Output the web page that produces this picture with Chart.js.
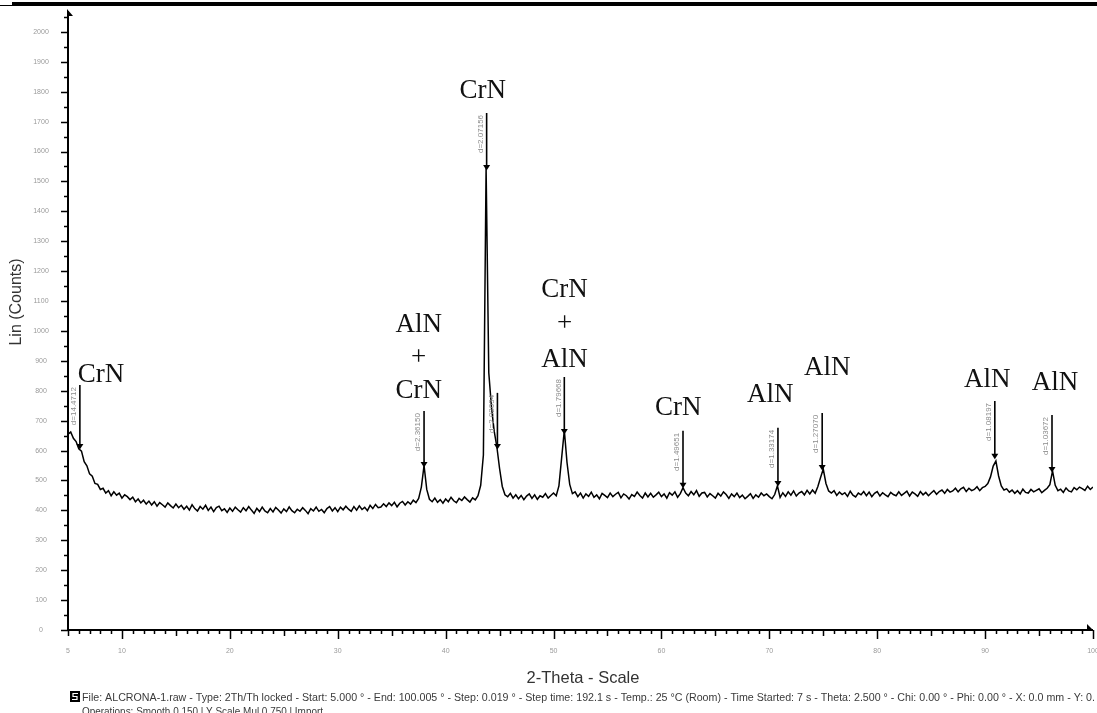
<!DOCTYPE html>
<html>
<head>
<meta charset="utf-8">
<script src="https://cdn.jsdelivr.net/npm/chart.js@4/dist/chart.umd.min.js"></script>
<style>
  html, body { margin: 0; padding: 0; background: #fff; }
  #wrap { position: relative; width: 1097px; height: 713px; overflow: hidden; }
  canvas { display: block; }
</style>
</head>
<body>
<div id="wrap"><canvas id="xrd" width="1097" height="713"></canvas></div>
<script>
// Step scan: 2-Theta from 5 deg, one count value every 0.25 deg
const scanStart = 5.0;
const scanStep = 0.25;
const counts = [
  655, 662, 641, 630,   // 5
  606, 598, 563, 549,   // 6
  522, 514, 490, 487,   // 7
  470, 474, 458, 466,   // 8
  449, 462, 451, 458,   // 9
  441, 452, 446, 436,   // 10
  444, 429, 438, 425,   // 11
  434, 421, 431, 418,   // 12
  429, 414, 426, 419,   // 13
  411, 425, 416, 408,   // 14
  421, 409, 417, 404,   // 15
  414, 401, 419, 406,   // 16
  398, 413, 404, 417,   // 17
  400, 411, 396, 409,   // 18
  414, 399, 405, 393,   // 19
  408, 397, 411, 402,   // 20
  394, 409, 399, 413,   // 21
  401, 390, 407, 396,   // 22
  411, 398, 392, 406,   // 23
  395, 410, 401, 391,   // 24
  405, 396, 412, 399,   // 25
  392, 404, 397, 409,   // 26
  400, 389, 406, 398,   // 27
  411, 397, 403, 392,   // 28
  406, 413, 398, 409,   // 29
  396, 411, 402, 414,   // 30
  404, 397, 413, 401,   // 31
  415, 403, 410, 399,   // 32
  417, 406, 420, 409,   // 33
  411, 422, 413, 425,   // 34
  416, 427, 412, 424,   // 35
  430, 418, 429, 421,   // 36
  434, 426, 440, 478,   // 37
  550, 470, 437, 429,   // 38
  441, 427, 436, 424,   // 39
  438, 429, 444, 432,   // 40
  426, 440, 433, 445,   // 41
  436, 428, 442, 435,   // 42
  449, 484, 585, 1545,  // 43
  860, 745, 665, 612,   // 44
  540, 480, 452, 446,   // 45
  457, 441, 452, 439,   // 46
  450, 436, 448, 455,   // 47
  440, 452, 437, 449,   // 48
  444, 456, 441, 450,   // 49
  458, 449, 482, 575,   // 50
  668, 560, 487, 456,   // 51
  462, 446, 458, 441,   // 52
  455, 447, 461, 444,   // 53
  452, 439, 457, 450,   // 54
  443, 458, 446, 454,   // 55
  460, 442, 455, 449,   // 56
  438, 453, 447, 461,   // 57
  450, 441, 458, 445,   // 58
  457, 444, 452, 461,   // 59
  446, 455, 441, 459,   // 60
  451, 462, 444, 456,   // 61
  476, 458, 449, 463,   // 62
  452, 466, 447, 458,   // 63
  460, 445, 456, 449,   // 64
  441, 457, 448, 462,   // 65
  453, 440, 455, 446,   // 66
  458, 443, 451, 439,   // 67
  447, 456, 440, 452,   // 68
  444, 458, 449, 455,   // 69
  446, 439, 453, 482,   // 70
  443, 459, 447, 462,   // 71
  451, 465, 448, 458,   // 72
  463, 452, 467, 455,   // 73
  468, 457, 480, 510,   // 74
  538, 490, 465, 458,   // 75
  466, 450, 461, 453,   // 76
  459, 447, 464, 451,   // 77
  445, 458, 452, 463,   // 78
  449, 461, 446, 457,   // 79
  463, 448, 459, 452,   // 80
  446, 460, 453, 449,   // 81
  462, 450, 457, 464,   // 82
  448, 461, 455, 447,   // 83
  463, 452, 460, 449,   // 84
  458, 466, 454, 463,   // 85
  468, 457, 470, 461,   // 86
  465, 474, 462, 472,   // 87
  477, 463, 474, 466,   // 88
  470, 479, 466, 476,   // 89
  480, 490, 512, 548,   // 90
  565, 515, 482, 468,   // 91
  472, 461, 468, 457,   // 92
  466, 455, 471, 460,   // 93
  458, 470, 462, 467,   // 94
  472, 459, 467, 474,   // 95
  486, 532, 484, 466,   // 96
  471, 460, 475, 465,   // 97
  462, 476, 469, 478,   // 98
  473, 467, 481, 470,   // 99
  478                   // 100
];

// Reflection markers: position, d-spacing text, intensity at the peak, top of the marker stick
const peakAngles   = [6.1, 38.0, 43.8, 44.8, 51.0, 62.0, 70.8, 74.9, 90.9, 96.2];
const peakDLabels  = ['d=14.4712', 'd=2.36150', 'd=2.07156', 'd=2.02034', 'd=1.79668',
                      'd=1.49651', 'd=1.33174', 'd=1.27070', 'd=1.08197', 'd=1.03672'];
const peakCounts   = [612, 552, 1545, 612, 662, 482, 488, 542, 579, 535];
const stickTops    = [819, 732, 1729, 793, 846, 666, 676, 726, 766, 719];

// Phase names written above the reflections (angle of the text centre, count level of its baseline)
const phaseNames  = ['CrN', 'AlN', '+', 'CrN', 'CrN', 'CrN', '+', 'AlN', 'CrN', 'AlN', 'AlN', 'AlN', 'AlN'];
const phaseAngles = [8.06, 37.5, 37.5, 37.5, 43.43, 51.02, 51.02, 51.02, 61.57, 70.09, 75.37, 90.19, 96.48];
const phaseLevels = [829, 997, 887, 776, 1779, 1114, 1000, 880, 719, 763, 853, 813, 803];

// Axis tick labels
const xTickLabels = [5, 10, 20, 30, 40, 50, 60, 70, 80, 90, 100];
const yTickLabels = [0, 100, 200, 300, 400, 500, 600, 700, 800, 900, 1000,
                     1100, 1200, 1300, 1400, 1500, 1600, 1700, 1800, 1900, 2000];

const xTitle = '2-Theta - Scale';
const yTitle = 'Lin (Counts)';
const fileLine = 'File: ALCRONA-1.raw - Type: 2Th/Th locked - Start: 5.000 \u00b0 - End: 100.005 \u00b0 - Step: 0.019 \u00b0 - Step time: 192.1 s - Temp.: 25 \u00b0C (Room) - Time Started: 7 s - Theta: 2.500 \u00b0 - Chi: 0.00 \u00b0 - Phi: 0.00 \u00b0 - X: 0.0 mm - Y: 0.';
const opsLine = 'Operations: Smooth 0.150 | Y Scale Mul 0.750 | Import';

const points = counts.map((c, i) => ({ x: scanStart + i * scanStep, y: c }));

const decor = {
  id: 'decor',
  afterDatasetsDraw(chart) {
    const { ctx, scales: { x, y } } = chart;
    const X = v => x.getPixelForValue(v);
    const Y = v => y.getPixelForValue(v);
    const x0 = X(x.min), x1 = X(x.max), y0 = Y(0), yTop = Y(y.max);
    ctx.save();

    // page rule at the top
    ctx.fillStyle = '#000';
    ctx.fillRect(12, 2, 1085, 4);
    ctx.fillRect(0, 5, 12, 1);

    // axes
    ctx.strokeStyle = '#000';
    ctx.lineWidth = 2;
    ctx.beginPath();
    ctx.moveTo(x0, y0 + 1); ctx.lineTo(x0, yTop);
    ctx.moveTo(x0 - 1, y0); ctx.lineTo(x1, y0);
    ctx.stroke();
    // half arrow heads
    ctx.beginPath();
    ctx.moveTo(x0 - 1, yTop - 2); ctx.lineTo(x0 + 5, yTop + 5); ctx.lineTo(x0 - 1, yTop + 5); ctx.closePath();
    ctx.fill();
    ctx.beginPath();
    ctx.moveTo(x1 + 1, y0 + 1); ctx.lineTo(x1 - 6, y0 - 6); ctx.lineTo(x1 - 6, y0 + 1); ctx.closePath();
    ctx.fill();

    // y ticks every 50, longer every 100
    ctx.lineWidth = 1.5;
    ctx.beginPath();
    for (let v = 0; v <= 2050; v += 50) {
      const len = v % 100 === 0 ? 7 : 4;
      const py = Math.round(Y(v)) + 0.5;
      ctx.moveTo(x0, py); ctx.lineTo(x0 - len, py);
    }
    // x ticks every degree, longer at 5 and 10
    for (let v = 5; v <= 100; v += 1) {
      const len = v % 10 === 0 ? 9 : (v % 5 === 0 ? 6 : 4);
      const px = Math.round(X(v)) + 0.5;
      ctx.moveTo(px, y0); ctx.lineTo(px, y0 + len);
    }
    ctx.stroke();

    // tick labels
    ctx.fillStyle = '#9a9a9a';
    ctx.font = '7px Arial, "Liberation Sans", sans-serif';
    ctx.textAlign = 'center';
    ctx.textBaseline = 'middle';
    yTickLabels.forEach(v => ctx.fillText(String(v), 41, Y(v)));
    xTickLabels.forEach(v => ctx.fillText(String(v), X(v), 651));

    // axis titles
    ctx.fillStyle = '#333';
    ctx.font = '16.5px Arial, "Liberation Sans", sans-serif';
    ctx.textBaseline = 'alphabetic';
    ctx.fillText(xTitle, 583, 683);
    ctx.save();
    ctx.translate(21, 302);
    ctx.rotate(-Math.PI / 2);
    ctx.font = '16px Arial, "Liberation Sans", sans-serif';
    ctx.fillText(yTitle, 0, 0);
    ctx.restore();

    // reflection markers
    peakAngles.forEach((a, i) => {
      const px = X(a), pTop = Y(stickTops[i]), pPeak = Y(peakCounts[i]);
      ctx.strokeStyle = '#000';
      ctx.lineWidth = 1.6;
      ctx.beginPath();
      ctx.moveTo(px, pTop); ctx.lineTo(px, pPeak);
      ctx.stroke();
      ctx.fillStyle = '#000';
      ctx.beginPath();
      ctx.moveTo(px - 3.5, pPeak - 3); ctx.lineTo(px + 3.5, pPeak - 3); ctx.lineTo(px, pPeak + 2.5); ctx.closePath();
      ctx.fill();
      // d-spacing, written upwards beside the stick
      ctx.save();
      ctx.translate(px - 2, pTop + 2);
      ctx.rotate(-Math.PI / 2);
      ctx.fillStyle = '#8c8c8c';
      ctx.font = '8px Arial, "Liberation Sans", sans-serif';
      ctx.textAlign = 'right';
      ctx.textBaseline = 'bottom';
      ctx.fillText(peakDLabels[i], 0, 0);
      ctx.restore();
    });

    // phase names
    ctx.fillStyle = '#111';
    ctx.font = '27px "Liberation Serif", "Times New Roman", serif';
    ctx.textAlign = 'center';
    ctx.textBaseline = 'alphabetic';
    phaseNames.forEach((n, i) => ctx.fillText(n, X(phaseAngles[i]), Y(phaseLevels[i])));

    // file information footer
    ctx.fillStyle = '#000';
    ctx.fillRect(70, 691, 10, 11);
    ctx.strokeStyle = '#fff';
    ctx.lineWidth = 1.2;
    ctx.beginPath();
    ctx.moveTo(78, 693.5); ctx.lineTo(73, 693.5); ctx.lineTo(73, 696.5); ctx.lineTo(77, 696.5); ctx.lineTo(77, 699.5); ctx.lineTo(72, 699.5);
    ctx.stroke();
    ctx.fillStyle = '#3a3a3a';
    ctx.font = '10px Arial, "Liberation Sans", sans-serif';
    ctx.textAlign = 'left';
    const w = ctx.measureText(fileLine).width;
    ctx.save();
    ctx.translate(82, 701);
    ctx.scale(1013 / w, 1);
    ctx.fillText(fileLine, 0, 0);
    ctx.restore();
    const w2 = ctx.measureText(opsLine).width;
    ctx.save();
    ctx.translate(82, 715);
    ctx.scale(241 / w2, 1);
    ctx.fillText(opsLine, 0, 0);
    ctx.restore();

    ctx.restore();
  }
};

new Chart(document.getElementById('xrd'), {
  type: 'line',
  data: {
    datasets: [{
      data: points,
      borderColor: '#000',
      borderWidth: 1.5,
      pointRadius: 0,
      tension: 0,
      fill: false
    }]
  },
  options: {
    responsive: false,
    animation: false,
    devicePixelRatio: 1,
    layout: { padding: { left: 68, right: 4, top: 11, bottom: 83 } },
    scales: {
      x: { type: 'linear', min: 5, max: 100, display: false },
      y: { min: 0, max: 2070, display: false }
    },
    plugins: { legend: { display: false }, tooltip: { enabled: false } }
  },
  plugins: [decor]
});
</script>
</body>
</html>
